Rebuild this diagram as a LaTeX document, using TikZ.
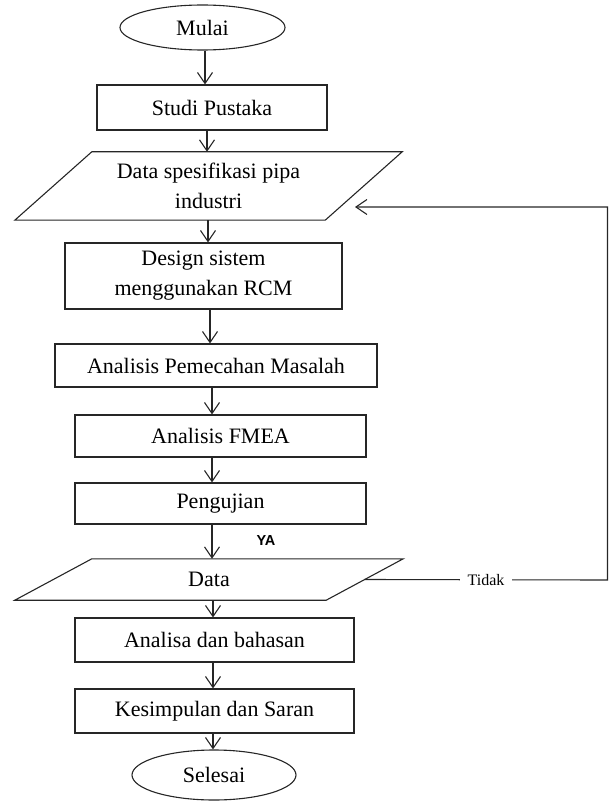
\documentclass[tikz,border=0pt]{standalone}
\usepackage{fontspec}
\setmainfont{Liberation Serif}
\setsansfont{Liberation Sans}
\usetikzlibrary{shapes.geometric,arrows.meta}

\begin{document}
\begin{tikzpicture}[x=1pt, y=-1pt,
        garis/.style = {draw=black!85, line width=1.1pt},
        teks/.style  = {align=center, font=\fontsize{22}{30}\selectfont},
        kotak/.style = {garis, teks, rectangle, inner sep=2pt},
        oval/.style  = {garis, teks, ellipse, inner sep=0pt},
        jajar/.style = {teks, rectangle, inner sep=0pt},
        panah/.style = {garis, -{Straight Barb[length=11pt,width=15pt,line width=1.1pt]}}]

        \useasboundingbox (0,0) rectangle (609,802);

        % mulai
        \node[oval, minimum width=165pt, minimum height=45pt] (mulai) at (202.5,27.5) {Mulai};
        \node[kotak, minimum width=230pt, minimum height=45pt] (studi) at (212,107.5) {Studi Pustaka};

        % data spesifikasi (jajaran genjang)
        \node[jajar, minimum width=310pt, minimum height=68pt] (spek) at (208.5,186) {Data spesifikasi pipa\\industri};
        \draw[garis] ([xshift=38.5pt]spek.north west) -- ([xshift=38.5pt]spek.north east)
            -- ([xshift=-38.5pt]spek.south east) -- ([xshift=-38.5pt]spek.south west) -- cycle;

        \node[kotak, minimum width=277pt, minimum height=66pt] (desain) at (203.5,276) {Design sistem\\menggunakan RCM};
        \node[kotak, minimum width=322pt, minimum height=43pt] (masalah) at (216,365.5) {Analisis Pemecahan Masalah};
        \node[kotak, minimum width=291pt, minimum height=42pt] (fmea) at (220.5,436) {Analisis FMEA};
        \node[kotak, minimum width=291pt, minimum height=41pt] (uji) at (220.5,503.5) {Pengujian};

        % data hasil pengujian
        \node[jajar, minimum width=311pt, minimum height=41pt] (data) at (209,579.5) {Data};
        \draw[garis] ([xshift=38.5pt]data.north west) -- ([xshift=38.5pt]data.north east)
            -- ([xshift=-38.5pt]data.south east) -- ([xshift=-38.5pt]data.south west) -- cycle;

        \node[kotak, minimum width=279pt, minimum height=44pt] (analisa) at (214.5,640) {Analisa dan bahasan};
        \node[kotak, minimum width=279pt, minimum height=44pt] (simpul) at (214.5,711) {Kesimpulan dan Saran};
        \node[oval, minimum width=164pt, minimum height=50pt] (selesai) at (214,775) {Selesai};

        % alur utama
        \foreach \a/\b/\x in {mulai/studi/205, studi/spek/207, spek/desain/208, desain/masalah/210,
                masalah/fmea/212, fmea/uji/212, uji/data/212, data/analisa/213,
                analisa/simpul/213, simpul/selesai/213}
            \draw[panah] (\x,0 |- \a.south) -- (\x,0 |- \b.north);

        \node[font=\sffamily\bfseries\fontsize{14.5}{14.5}\selectfont] (ya) at (266,541) {YA};

        % balik jika tidak
        \coordinate (kanan) at (607.5,580);
        \coordinate (balik) at (355,207);
        \draw[panah] (data.east) -- node[fill=white, inner sep=8pt, font=\fontsize{16}{16}\selectfont] (tidak) {Tidak} (kanan) |- (balik);
    \end{tikzpicture}
\end{document}
